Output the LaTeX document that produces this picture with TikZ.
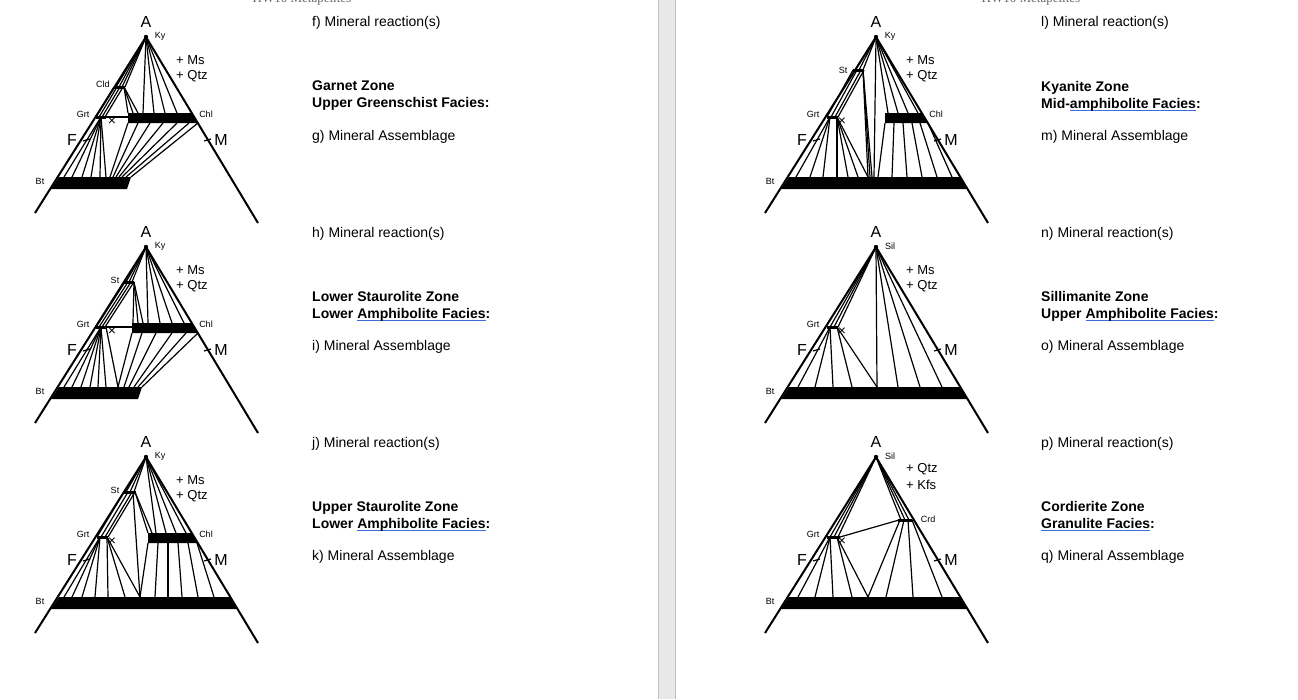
\documentclass[tikz,border=0pt]{standalone}
\usepackage{fontspec}
\setmainfont{Liberation Sans}
\newfontfamily\serifhd{Liberation Serif}
\definecolor{spell}{HTML}{3A6FD8}
\newsavebox\ulbox
\newcommand\bluel[1]{\sbox\ulbox{#1}\rlap{\textcolor{spell}{\rule[-2.5pt]{\wd\ulbox}{0.9pt}}}\usebox\ulbox}
\tikzset{
 edge/.style={line width=2pt},
 tie/.style={line width=1.2pt},
 lab/.style={font=\fontsize{9}{9}\selectfont, inner sep=0},
 big/.style={font=\fontsize{16}{16}\selectfont, inner sep=0},
 mid/.style={font=\fontsize{13}{13}\selectfont, inner sep=0, anchor=west},
 txt/.style={font=\fontsize{14}{14}\selectfont, anchor=west, inner sep=0},
 btxt/.style={font=\fontsize{14}{17}\selectfont\bfseries, anchor=north west, inner sep=0, align=left},
}
\newcommand\tribase[1]{%
 \draw[edge] (35,213) -- (146,37) -- (258,223);
 \fill (146,37) circle (2.2);
 \node[big] at (146,22) {A};
 \node[lab] at (160,36) {#1};
 \node[lab] at (40,181) {Bt};
 \node[lab] at (83,114) {Grt};
 \node[big] at (72,140) {F};
 \node[big] at (221,140) {M};
 \draw[tie] (83,141) -- (90,139);
 \draw[tie] (204,141) -- (211,139);
 \node[font=\fontsize{14}{14}\selectfont, inner sep=0] at (112,122) {×};
}
\begin{document}
\begin{tikzpicture}[x=1pt,y=-1pt]
\useasboundingbox (0,0) rectangle (1298,699);
\fill[white] (0,0) rectangle (1298,699);
\fill[black!9] (658,0) rectangle (675,699);
\draw[black!25] (658,0) -- (658,699) (675,0) -- (675,699);
\node[text=black!60, font=\serifhd\fontsize{13}{13}\selectfont] (hd1) at (302,-1) {HW10 Metapelites};
\node[text=black!60, font=\serifhd\fontsize{13}{13}\selectfont] (hd2) at (1031,-1) {HW10 Metapelites};

% ---------- panel f ----------
\begin{scope}
\tribase{Ky}
\node[mid] at (176,60) {+ Ms}; \node[mid] at (176,76) {+ Qtz};
\node[lab] at (103,84) {Cld}; \node[lab] at (206,114) {Chl};
\fill (59,177) -- (131,177) -- (127,189) -- (51,189) -- cycle;
\fill (128,113) -- (192,113) -- (198,123) -- (128,123) -- cycle;
\draw[line width=3pt] (114,87) -- (125,87);
\draw[line width=3pt] (96,117) -- (106,117);
\foreach \x in {116,119,122,125} \draw[tie] (146,37) -- (\x,87);
\foreach \x in {143,154,165,177} \draw[tie] (146,37) -- (\x,113);
\foreach \a/\b in {114/96,117/99,120/102,123/105} \draw[tie] (\a,87) -- (\b,117);
\foreach \b in {128,133,138} \draw[tie] (124,87) -- (\b,113);
\draw[tie] (106,117) -- (128,117);
\foreach \b in {64,72,82,91,100,106} \draw[tie] (101,117) -- (\b,177);
\foreach \a/\b in {128/110,138/113,150/116,163/119,177/122,189/126,198/131} \draw[tie] (\a,123) -- (\b,177);
\end{scope}

% ---------- panel h ----------
\begin{scope}[shift={(0,210)}]
\tribase{Ky}
\node[mid] at (176,60) {+ Ms}; \node[mid] at (176,76) {+ Qtz};
\node[lab] at (115,70) {St}; \node[lab] at (206,114) {Chl};
\fill (59,177) -- (142,177) -- (138,189) -- (51,189) -- cycle;
\fill (132,113) -- (192,113) -- (198,123) -- (132,123) -- cycle;
\draw[line width=3pt] (124,72) -- (134,72);
\draw[line width=3pt] (96,117) -- (106,117);
\foreach \x in {126,129,132} \draw[tie] (146,37) -- (\x,72);
\foreach \x in {148,160,172,184} \draw[tie] (146,37) -- (\x,113);
\foreach \a/\b in {125/96,128/99,131/102,134/105} \draw[tie] (\a,72) -- (\b,117);
\foreach \b in {133,138,143} \draw[tie] (134,72) -- (\b,113);
\draw[tie] (106,117) -- (132,117);
\foreach \b in {64,72,81,90,98,106} \draw[tie] (101,117) -- (\b,177);
\draw[tie] (106,117) -- (118,177);
\foreach \a/\b in {132/118,142/124,156/129,172/134,186/138,198/142} \draw[tie] (\a,123) -- (\b,177);
\end{scope}

% ---------- panel j ----------
\begin{scope}[shift={(0,420)}]
\tribase{Ky}
\node[mid] at (176,60) {+ Ms}; \node[mid] at (176,76) {+ Qtz};
\node[lab] at (115,70) {St}; \node[lab] at (206,114) {Chl};
\fill (59,177) -- (230,177) -- (237,189) -- (51,189) -- cycle;
\fill (148,113) -- (192,113) -- (198,123) -- (148,123) -- cycle;
\draw[line width=3pt] (124,72) -- (136,72);
\draw[line width=3pt] (97,117) -- (108,117);
\foreach \x in {126,130,134} \draw[tie] (146,37) -- (\x,72);
\foreach \x in {156,166,176,186} \draw[tie] (146,37) -- (\x,113);
\foreach \b in {148,152} \draw[tie] (135,72) -- (\b,113);
\foreach \a/\b in {124/97,128/101,132/105,135/108} \draw[tie] (\a,72) -- (\b,117);
\draw[tie] (133,72) -- (140,177);
\foreach \a/\b in {148/140,158/155,168/168,178/182,188/198,197/214} \draw[tie] (\a,123) -- (\b,177);
\foreach \b in {64,72,82,95} \draw[tie] (100,117) -- (\b,177);
\foreach \b in {108,125,140} \draw[tie] (107,117) -- (\b,177);
\end{scope}

% ---------- panel l ----------
\begin{scope}[shift={(730,0)}]
\tribase{Ky}
\node[mid] at (176,60) {+ Ms}; \node[mid] at (176,76) {+ Qtz};
\node[lab] at (113,70) {St}; \node[lab] at (206,114) {Chl};
\fill (59,177) -- (230,177) -- (237,189) -- (51,189) -- cycle;
\fill (155,113) -- (192,113) -- (198,123) -- (155,123) -- cycle;
\draw[line width=3pt] (123,70) -- (134,70);
\draw[line width=3pt] (97,117) -- (108,117);
\foreach \x in {125,129,133} \draw[tie] (146,37) -- (\x,70);
\foreach \a/\b in {123/97,127/101,131/105,134/108} \draw[tie] (\a,70) -- (\b,117);
\foreach \b in {138,140,142} \draw[tie] (133,70) -- (\b,177);
\draw[tie] (146,37) -- (144,177);
\foreach \x in {158,168,178,188} \draw[tie] (146,37) -- (\x,113);
\foreach \a/\b in {155/148,164/162,173/177,182/192,190/207,198/222} \draw[tie] (\a,123) -- (\b,177);
\foreach \b in {66,80,93} \draw[tie] (100,117) -- (\b,177);
\foreach \b in {107,118,128,138} \draw[tie] (107,117) -- (\b,177);
\end{scope}

% ---------- panel n ----------
\begin{scope}[shift={(730,210)}]
\tribase{Sil}
\node[mid] at (176,60) {+ Ms}; \node[mid] at (176,76) {+ Qtz};
\fill (59,177) -- (230,177) -- (237,189) -- (51,189) -- cycle;
\draw[line width=3pt] (97,117) -- (108,117);
\foreach \x in {100,104,108} \draw[tie] (146,37) -- (\x,117);
\foreach \x in {147,168,190,212} \draw[tie] (146,37) -- (\x,177);
\foreach \b in {68,85,103} \draw[tie] (100,117) -- (\b,177);
\foreach \b in {122,147} \draw[tie] (107,117) -- (\b,177);
\end{scope}

% ---------- panel p ----------
\begin{scope}[shift={(730,420)}]
\tribase{Sil}
\node[mid] at (176,49) {+ Qtz}; \node[mid] at (176,65) {+ Kfs};
\node[lab] at (198,99) {Crd};
\fill (59,177) -- (230,177) -- (237,189) -- (51,189) -- cycle;
\draw[line width=3pt] (97,117) -- (110,117);
\draw[line width=3pt] (168,100) -- (182,100);
\foreach \x in {100,104,108} \draw[tie] (146,37) -- (\x,117);
\foreach \x in {171,175,179} \draw[tie] (146,37) -- (\x,100);
\draw[tie] (110,117) -- (169,100);
\foreach \a/\b in {170/138,174/156,178/183,182/212} \draw[tie] (\a,100) -- (\b,177);
\foreach \b in {68,85,103} \draw[tie] (100,117) -- (\b,177);
\foreach \b in {122,138} \draw[tie] (107,117) -- (\b,177);
\end{scope}

% ---------- texts ----------
\node[txt] (f) at (312,23) {f) Mineral reaction(s)};
\node[btxt] (fz) at (312,81) {Garnet Zone\\Upper Greenschist Facies:};
\node[txt] (g) at (312,137) {g) Mineral Assemblage};
\node[txt] (h) at (312,234) {h) Mineral reaction(s)};
\node[btxt] (hz) at (312,291) {Lower Staurolite Zone\\Lower \bluel{Amphibolite  Facies}:};
\node[txt] (i) at (312,347) {i) Mineral Assemblage};
\node[txt] (j) at (312,444) {j) Mineral reaction(s)};
\node[btxt] (jz) at (312,501) {Upper Staurolite Zone\\Lower \bluel{Amphibolite  Facies}:};
\node[txt] (k) at (312,557) {k) Mineral Assemblage};
\node[txt] (l) at (1041,23) {l) Mineral reaction(s)};
\node[btxt] (lz) at (1041,81) {Kyanite Zone\\Mid-\bluel{amphibolite  Facies}:};
\node[txt] (m) at (1041,137) {m) Mineral Assemblage};
\node[txt] (n) at (1041,234) {n) Mineral reaction(s)};
\node[btxt] (nz) at (1041,291) {Sillimanite Zone\\Upper \bluel{Amphibolite  Facies}:};
\node[txt] (o) at (1041,347) {o) Mineral Assemblage};
\node[txt] (p) at (1041,444) {p) Mineral reaction(s)};
\node[btxt] (pz) at (1041,501) {Cordierite Zone\\\bluel{Granulite  Facies}:};
\node[txt] (q) at (1041,557) {q) Mineral Assemblage};
\end{tikzpicture}
\end{document}
